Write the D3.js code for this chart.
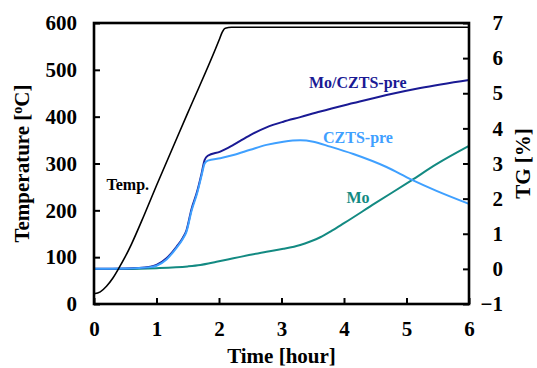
<!DOCTYPE html>
<html>
<head>
<meta charset="utf-8">
<script src="https://cdn.jsdelivr.net/npm/d3@7"></script>
<style>
	body { margin: 0; background: #fff; }
	text { font-family: "Liberation Serif", "Times New Roman", serif; font-weight: bold; }
</style>
</head>
<body>
<svg id="chart" width="537" height="368"></svg>
<script>

//data

// temperature curve (left axis)
var tempTime = [0, 0.1, 0.2, 0.3, 0.4, 0.5, 0.6, 0.8, 1.0, 1.5, 2.0, 2.05, 2.1, 2.2, 3, 4, 5, 6];
var tempValue = [22, 26, 38, 55, 77, 101, 128, 189, 253, 408, 563, 580, 589, 591, 591, 591, 591, 591];

// TG curves (right axis)
var moCztsTime = [0, 0.5, 0.9, 1.0, 1.16, 1.32, 1.42, 1.48, 1.56, 1.65, 1.72, 1.77, 1.82, 2.02, 2.23, 2.5, 2.76, 3.03, 3.3, 3.62, 4.15, 4.68, 5.22, 6];
var moCztsTG = [0, 0.01, 0.06, 0.11, 0.3, 0.63, 0.88, 1.1, 1.7, 2.2, 2.7, 3.1, 3.22, 3.34, 3.53, 3.81, 4.03, 4.19, 4.32, 4.48, 4.72, 4.95, 5.15, 5.38];

var cztsTime = [0, 0.5, 0.9, 1.0, 1.16, 1.32, 1.42, 1.48, 1.56, 1.65, 1.72, 1.77, 1.82, 2.02, 2.23, 2.5, 2.76, 3.03, 3.3, 3.51, 3.78, 4.15, 4.68, 5.08, 5.48, 6];
var cztsTG = [0, 0.01, 0.05, 0.09, 0.27, 0.6, 0.85, 1.06, 1.65, 2.15, 2.65, 3.0, 3.08, 3.15, 3.24, 3.39, 3.53, 3.62, 3.66, 3.62, 3.48, 3.27, 2.9, 2.54, 2.22, 1.85];

var moTime = [0, 0.5, 1.0, 1.5, 1.7, 1.96, 2.23, 2.5, 2.76, 3.03, 3.3, 3.46, 3.62, 3.8, 4.0, 4.5, 5.08, 5.48, 6];
var moTG = [0, 0, 0.02, 0.07, 0.11, 0.2, 0.3, 0.4, 0.49, 0.57, 0.68, 0.78, 0.9, 1.08, 1.3, 1.87, 2.52, 2.98, 3.5];

// ticks
var timeTicks = [0, 1, 2, 3, 4, 5, 6];
var tempTicks = [0, 100, 200, 300, 400, 500, 600];
var tgTicks = [-1, 0, 1, 2, 3, 4, 5, 6, 7];

// series labels
var labels = ["Temp.", "Mo/CZTS-pre", "CZTS-pre", "Mo"];


//main variables
var svg = d3.select("#chart"),
	plotLeft = 94,
	plotRight = 469,
	plotTop = 23,
	plotBottom = 304;

var colTemp = "#000000",
	colMoCzts = "#1a1a94",
	colCzts = "#3fa0ff",
	colMo = "#138a82";

//scales
var x = d3.scaleLinear().domain([0, 6]).range([plotLeft, plotRight]),
	yTemp = d3.scaleLinear().domain([0, 600]).range([plotBottom, plotTop]),
	yTG = d3.scaleLinear().domain([-1, 7]).range([plotBottom, plotTop]);

function toPoints(xs, ys) {
	return xs.map(function(t, i) { return [t, ys[i]]; });
}

//--------------AXES------------------------------------------
var gBottom = svg.append("g")
	.attr("transform", "translate(0," + plotBottom + ")")
	.call(d3.axisBottom(x).tickValues(timeTicks).tickSize(-6).tickPadding(17).tickFormat(d3.format("d")));

var gLeft = svg.append("g")
	.attr("transform", "translate(" + plotLeft + ",0)")
	.call(d3.axisLeft(yTemp).tickValues(tempTicks).tickSize(-6).tickPadding(17).tickFormat(d3.format("d")));

var gRight = svg.append("g")
	.attr("transform", "translate(" + plotRight + ",0)")
	.call(d3.axisRight(yTG).tickValues(tgTicks).tickSize(-6).tickFormat(d3.format("d")));

[gBottom, gLeft, gRight].forEach(function(g) {
	g.select(".domain").remove();
	g.selectAll(".tick line").attr("stroke", "#000").attr("stroke-width", 2);
	g.selectAll(".tick text")
		.attr("fill", "#000")
		.style("font-size", "21px")
		.style("font-family", "'Liberation Serif', 'Times New Roman', serif")
		.style("font-weight", "bold");
});

gRight.selectAll(".tick text")
	.attr("text-anchor", "end")
	.attr("x", 34);

//--------------LINES-----------------------------------------
var line = d3.line().curve(d3.curveMonotoneX)
	.x(function(d) { return x(d[0]); })
	.y(function(d) { return yTG(d[1]); });

svg.append("path")
	.datum(toPoints(moTime, moTG))
	.attr("fill", "none")
	.attr("stroke", colMo)
	.attr("stroke-width", 2)
	.attr("d", line);

svg.append("path")
	.datum(toPoints(moCztsTime, moCztsTG))
	.attr("fill", "none")
	.attr("stroke", colMoCzts)
	.attr("stroke-width", 2)
	.attr("d", line);

svg.append("path")
	.datum(toPoints(cztsTime, cztsTG))
	.attr("fill", "none")
	.attr("stroke", colCzts)
	.attr("stroke-width", 2)
	.attr("d", line);

svg.append("path")
	.datum(toPoints(tempTime, tempValue))
	.attr("fill", "none")
	.attr("stroke", colTemp)
	.attr("stroke-width", 1.6)
	.attr("d", d3.line().curve(d3.curveMonotoneX)
		.x(function(d) { return x(d[0]); })
		.y(function(d) { return yTemp(d[1]); }));

//frame
svg.append("rect")
	.attr("x", plotLeft)
	.attr("y", plotTop)
	.attr("width", plotRight - plotLeft)
	.attr("height", plotBottom - plotTop)
	.attr("fill", "none")
	.attr("stroke", "#000")
	.attr("stroke-width", 2.6);

//--------------TEXT------------------------------------------
svg.append("text")
	.attr("x", (plotLeft + plotRight) / 2)
	.attr("y", 363)
	.attr("text-anchor", "middle")
	.style("font-size", "21px")
	.text("Time [hour]");

var tTitle = svg.append("text")
	.attr("transform", "translate(29," + (plotTop + plotBottom) / 2 + ") rotate(-90)")
	.attr("text-anchor", "middle")
	.style("font-size", "21px");
tTitle.append("tspan").text("Temperature [");
tTitle.append("tspan").attr("dy", -7).style("font-size", "14px").text("o");
tTitle.append("tspan").attr("dy", 7).text("C]");

svg.append("text")
	.attr("transform", "translate(530," + (plotTop + plotBottom) / 2 + ") rotate(-90)")
	.attr("text-anchor", "middle")
	.style("font-size", "21px")
	.text("TG [%]");

//series labels
var labelPos = [
	{x: 106.5, y: 190, c: colTemp},
	{x: 309, y: 87.5, c: colMoCzts},
	{x: 323, y: 143, c: colCzts},
	{x: 346.5, y: 203, c: colMo}
];

svg.selectAll(".series-label")
	.data(labels)
	.enter().append("text")
	.attr("class", "series-label")
	.attr("x", function(d, i) { return labelPos[i].x; })
	.attr("y", function(d, i) { return labelPos[i].y; })
	.attr("fill", function(d, i) { return labelPos[i].c; })
	.style("font-size", "16px")
	.text(function(d) { return d; });

</script>
</body>
</html>
